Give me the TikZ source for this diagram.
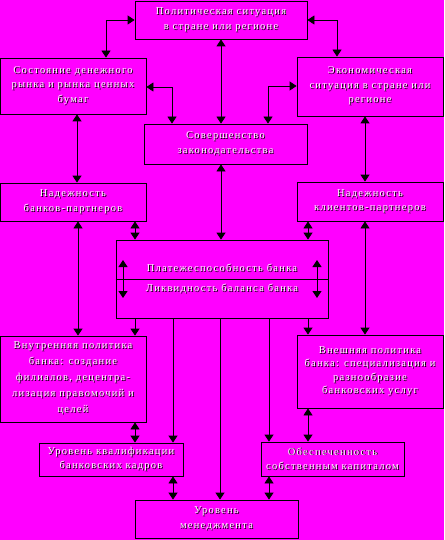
\documentclass[tikz,border=0pt]{standalone}
\usepackage{fontspec}
\setmainfont{Liberation Serif}[LetterSpace=12]
\usepackage{xcolor}
\usetikzlibrary{arrows.meta}
\definecolor{mymag}{RGB}{255,0,255}
% white text with a black shadow
\newcommand\sh[1]{\rlap{\color{black}\kern0.9pt\raisebox{-0.9pt}{#1}}{\color{white}#1}}
\tikzset{
  factor/.style={draw, thick, fill=mymag, align=center, inner sep=1pt,
    font=\fontsize{10.5}{14.5}\selectfont},
  link/.style={thick, {Triangle[width=9pt,length=7pt]}-{Triangle[width=9pt,length=7pt]}},
  onelink/.style={thick, -{Triangle[width=9pt,length=7pt]}}
}

\begin{document}
\begin{tikzpicture}[x=1pt, y=-1pt]
        \fill[mymag] (0,0) rectangle (444,540);
        \useasboundingbox (0,0) rectangle (444,540);
        % Top row
        \node[factor, minimum width=172, minimum height=38] (pol) at (221,20)
              {\sh{Политическая ситуация}\\\sh{в стране или регионе}};
        \node[factor, minimum width=146, minimum height=56] (cash) at (73,86)
              {\sh{Состояние денежного}\\\sh{рынка и рынка ценных}\\\sh{бумаг}};
        \node[factor, minimum width=146, minimum height=59] (econ) at (370,86.5)
              {\sh{Экономическая}\\\sh{ситуация в стране или}\\\sh{регионе}};
        \node[factor, minimum width=163, minimum height=40] (law) at (225.5,144)
              {\sh{Совершенство}\\\sh{законодательства}};
        % Partners
        \node[factor, minimum width=146, minimum height=38] (bankp) at (73,202)
              {\sh{Надежность}\\\sh{банков-партнеров}};
        \node[factor, minimum width=146, minimum height=39] (clientp) at (370,201.5)
              {\sh{Надежность}\\\sh{клиентов-партнеров}};
        % Bank
        \node[factor, minimum width=212, minimum height=78] (bank) at (222,279) {};
        \draw[thick] (bank.west) -- (bank.east);
        \node[font=\fontsize{10.5}{12}\selectfont] (solv) at (222,268) {\sh{Платежеспособность банка}};
        \node[font=\fontsize{10.5}{12}\selectfont] (liq) at (222,289) {\sh{Ликвидность баланса банка}};
        \coordinate (lt) at (123,260);
        \coordinate (lb) at (123,298);
        \coordinate (rt) at (317,260);
        \coordinate (rb) at (317,298);
        \draw[link] (lt) -- (lb);
        \draw[link] (rt) -- (rb);
        % Policies
        \node[factor, minimum width=146, minimum height=86, font=\fontsize{10.5}{16}\selectfont] (inner) at (73,379)
              {\sh{Внутренняя политика}\\\sh{банка: создание}\\\sh{филиалов, децентра-}\\\sh{лизация правомочий и}\\\sh{целей}};
        \node[factor, minimum width=146, minimum height=73, font=\fontsize{10.5}{13.5}\selectfont] (outer) at (370,371.5)
              {\sh{Внешняя политика}\\\sh{банка: специализация и}\\\sh{разнообразие}\\\sh{банковских услуг}};
        % Bottom
        \node[factor, minimum width=144, minimum height=33] (qual) at (111,459.5)
              {\sh{Уровень квалификации}\\\sh{банковских кадров}};
        \node[factor, minimum width=143, minimum height=34] (capital) at (332.5,459)
              {\sh{Обеспеченность}\\\sh{собственным капиталом}};
        \node[factor, minimum width=163, minimum height=38] (mgmt) at (216.5,519)
              {\sh{Уровень}\\\sh{менеджмента}};
        % Links
        \draw[link] (pol.west) -| (106,0 |- cash.north);
        \draw[link] (pol.east) -| (337,0 |- econ.north);
        \draw[link] (221,0 |- pol.south) -- (221,0 |- law.north);
        \draw[link] (cash.east |- 0,87) -| (172,0 |- law.north);
        \draw[link] (econ.west |- 0,86) -| (268,0 |- law.north);
        \draw[link] (77,0 |- cash.south) -- (77,0 |- bankp.north);
        \draw[link] (365,0 |- econ.south) -- (365,0 |- clientp.north);
        \draw[link] (221,0 |- law.south) -- (221,0 |- bank.north);
        \draw[link] (135,0 |- bankp.south) -- (135,0 |- bank.north);
        \draw[link] (308,0 |- clientp.south) -- (308,0 |- bank.north);
        \draw[link] (78,0 |- bankp.south) -- (78,0 |- inner.north);
        \draw[link] (365,0 |- clientp.south) -- (365,0 |- outer.north);
        \draw[onelink] (135,0 |- bank.south) -- (135,0 |- inner.north);
        \draw[onelink] (173,0 |- bank.south) -- (173,0 |- qual.north);
        \draw[onelink] (220,0 |- bank.south) -- (220,0 |- mgmt.north);
        \draw[onelink] (269,0 |- bank.south) -- (269,0 |- capital.north);
        \draw[onelink] (308,0 |- bank.south) -- (308,0 |- outer.north);
        \draw[link] (135,0 |- inner.south) -- (135,0 |- qual.north);
        \draw[link] (308,0 |- outer.south) -- (308,0 |- capital.north);
        \draw[link] (173,0 |- qual.south) -- (173,0 |- mgmt.north);
        \draw[link] (269,0 |- capital.south) -- (269,0 |- mgmt.north);
\end{tikzpicture}
\end{document}
